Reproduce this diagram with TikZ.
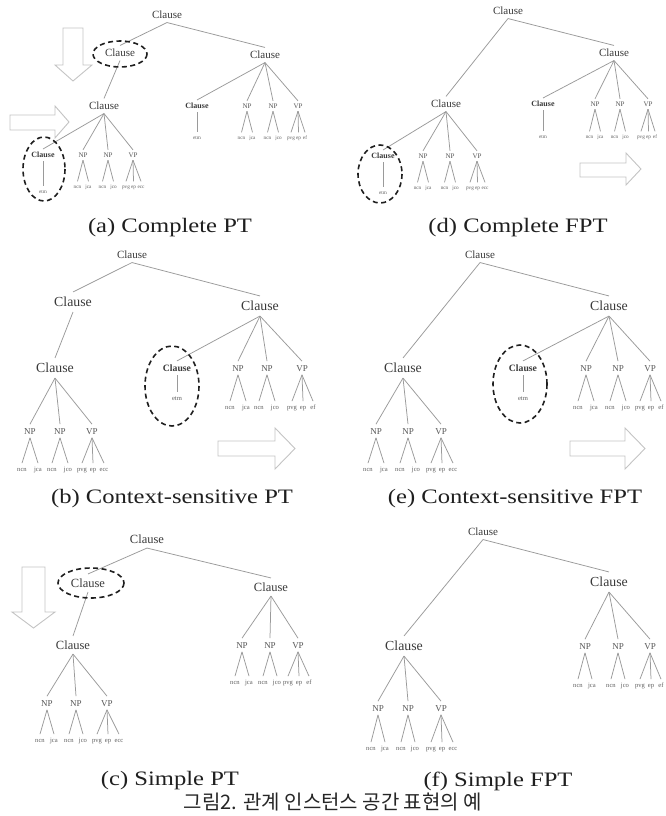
\documentclass[tikz,border=0pt]{standalone}
\usepackage{fontspec}
\newfontfamily\treefont{Liberation Serif}
\newfontfamily\leaffont{Liberation Serif}
\newfontfamily\capfont[FakeStretch=1.2]{Liberation Serif}
\newfontfamily\korfont{Noto Sans CJK KR}
\definecolor{cgray}{HTML}{3A3A3A}
\definecolor{ngray}{HTML}{555555}
\definecolor{lfgray}{HTML}{606060}
\definecolor{lgray}{HTML}{9A9A9A}
\definecolor{agray}{HTML}{C4C4C4}
\tikzset{
  edge/.style={draw=lgray, line width=0.75pt},
  bigA/.style={font=\treefont\fontsize{11}{12}\selectfont, text=cgray, inner sep=3.5pt, text height=7.7pt, text depth=0pt},
  bigC/.style={font=\treefont\fontsize{12.5}{13}\selectfont, text=cgray, inner sep=4.5pt, text height=8.7pt, text depth=0pt},
  bigB/.style={font=\treefont\fontsize{13.8}{14}\selectfont, text=cgray, inner sep=5pt, text height=9.7pt, text depth=0pt},
  scA/.style={font=\treefont\bfseries\fontsize{8}{9}\selectfont, text=cgray, inner sep=3pt, text height=5.6pt, text depth=0pt},
  scB/.style={font=\treefont\bfseries\fontsize{9.7}{10}\selectfont, text=cgray, inner sep=3.5pt, text height=6.8pt, text depth=0pt},
  catA/.style={font=\treefont\fontsize{7}{8}\selectfont, text=ngray, inner sep=2.5pt, text height=4.9pt, text depth=0pt},
  catB/.style={font=\treefont\fontsize{9}{10}\selectfont, text=ngray, inner sep=3.5pt, text height=6.3pt, text depth=0pt},
  leafA/.style={font=\leaffont\fontsize{5.2}{6}\selectfont, text=lfgray, inner sep=3pt, text height=3.8pt, text depth=1.1pt},
  leafB/.style={font=\leaffont\fontsize{6.6}{7}\selectfont, text=lfgray, inner sep=3.5pt, text height=5pt, text depth=1.4pt},
  dashring/.style={draw=black!88, line width=1.6pt, dash pattern=on 5pt off 3.5pt},
  fatarrow/.style={draw=agray, line width=0.9pt, fill=white, line join=miter},
  captxt/.style={font=\capfont\fontsize{20.5}{22}\selectfont, text=black!88, inner sep=0pt},
  kcap/.style={font=\korfont\fontsize{20}{22}\selectfont, text=black!85, inner sep=0pt}
}
% category node with its leaves: name, style, leaf style, x, y, label, drop, dx/leaf list
\newcommand\catn[8]{%
  \node[#2] (#1) at (#4,#5) {#6};
  \foreach \dx/\t [count=\i] in {#8}{%
    \node[#3] (#1-\i) at ({#4+\dx},{#5+#7}) {\t};
    \draw[edge] (#1.south) -- (#1-\i.north);
  }%
}
\begin{document}
\begin{tikzpicture}[x=1pt,y=-1pt]
\fill[white] (0,0) rectangle (666,816);
\useasboundingbox (0,0) rectangle (666,816);

% ---------------- (a) Complete PT ----------------
\node[bigA] (a0) at (167,15) {Clause};
\node[bigA] (a1) at (120,53) {Clause};
\node[bigA] (a2) at (104,106) {Clause};
\node[bigA] (a4) at (265,55) {Clause};
\catn{a3}{scA}{leafA}{43}{155}{Clause}{37}{0/etm}
\catn{a5}{catA}{leafA}{83}{155}{NP}{32}{-5.5/ncn,5.5/jca}
\catn{a6}{catA}{leafA}{108}{155}{NP}{32}{-5.5/ncn,5.5/jco}
\catn{a7}{catA}{leafA}{133}{155}{VP}{32}{-7/pvg,0.5/ep,8/ecc}
\catn{a8}{scA}{leafA}{197}{106}{Clause}{32}{0/etm}
\catn{a9}{catA}{leafA}{247}{106}{NP}{32}{-5.5/ncn,5.5/jca}
\catn{a10}{catA}{leafA}{273}{106}{NP}{32}{-5.5/ncn,5.5/jco}
\catn{a11}{catA}{leafA}{298}{106}{VP}{32}{-7/pvg,0.5/ep,7/ef}
\foreach \p/\c in {a0/a1,a0/a4,a1/a2,a2/a3,a2/a5,a2/a6,a2/a7,a4/a8,a4/a9,a4/a10,a4/a11}
  \draw[edge] (\p.south) -- (\c.north);
\draw[dashring] (120,54) ellipse [x radius=27, y radius=13];
\draw[dashring] (44,169) ellipse [x radius=21, y radius=32];
\draw[fatarrow] (63,28) -- (83,28) -- (83,65) -- (92,65) -- (73,81) -- (55,65) -- (63,65) -- cycle;
\draw[fatarrow] (10,115) -- (55,115) -- (55,106) -- (69,122) -- (55,138) -- (55,130) -- (10,130) -- cycle;
\node[captxt] (capa) at (170,228) {(a) Complete PT};

% ---------------- (d) Complete FPT ----------------
\node[bigA] (d0) at (508,11) {Clause};
\node[bigA] (d1) at (614,53) {Clause};
\node[bigA] (d2) at (446,104) {Clause};
\catn{d3}{scA}{leafA}{383}{156}{Clause}{37}{0/etm}
\catn{d5}{catA}{leafA}{423}{156}{NP}{32}{-5.5/ncn,5.5/jca}
\catn{d6}{catA}{leafA}{450}{156}{NP}{32}{-5.5/ncn,5.5/jco}
\catn{d7}{catA}{leafA}{477}{156}{VP}{32}{-7/pvg,0.5/ep,8/ecc}
\catn{d8}{scA}{leafA}{543}{104}{Clause}{33}{0/etm}
\catn{d9}{catA}{leafA}{595}{104}{NP}{33}{-5.5/ncn,5.5/jca}
\catn{d10}{catA}{leafA}{620}{104}{NP}{33}{-5.5/ncn,5.5/jco}
\catn{d11}{catA}{leafA}{648}{104}{VP}{33}{-7/pvg,0.5/ep,7/ef}
\foreach \p/\c in {d0/d1,d0/d2,d2/d3,d2/d5,d2/d6,d2/d7,d1/d8,d1/d9,d1/d10,d1/d11}
  \draw[edge] (\p.south) -- (\c.north);
\draw[dashring] (380,174) ellipse [x radius=22, y radius=29];
\draw[fatarrow] (580,163) -- (626,163) -- (626,153) -- (641,169) -- (626,185) -- (626,177) -- (580,177) -- cycle;
\node[captxt] (capd) at (518,228) {(d) Complete FPT};

% ---------------- (b) Context-sensitive PT ----------------
\node[bigA] (b0) at (132,255) {Clause};
\node[bigB] (b1) at (73,302) {Clause};
\node[bigB] (b2) at (55,368) {Clause};
\node[bigB] (b3) at (260,306) {Clause};
\catn{b5}{catB}{leafB}{30}{431}{NP}{39}{-8/ncn,8/jca}
\catn{b6}{catB}{leafB}{60}{431}{NP}{39}{-8/ncn,8/jco}
\catn{b7}{catB}{leafB}{92}{431}{VP}{39}{-10/pvg,1/ep,12/ecc}
\catn{b8}{scB}{leafB}{177}{368}{Clause}{31}{0/etm}
\catn{b9}{catB}{leafB}{238}{368}{NP}{40}{-8/ncn,8/jca}
\catn{b10}{catB}{leafB}{267}{368}{NP}{40}{-8/ncn,8/jco}
\catn{b11}{catB}{leafB}{302}{368}{VP}{40}{-10/pvg,1/ep,11/ef}
\foreach \p/\c in {b0/b1,b0/b3,b1/b2,b2/b5,b2/b6,b2/b7,b3/b8,b3/b9,b3/b10,b3/b11}
  \draw[edge] (\p.south) -- (\c.north);
\draw[dashring] (172,386) ellipse [x radius=27, y radius=40];
\draw[fatarrow] (218,441) -- (275,441) -- (275,428) -- (295,448.5) -- (275,469) -- (275,456) -- (218,456) -- cycle;
\node[captxt] (capb) at (172,499) {(b) Context-sensitive PT};

% ---------------- (e) Context-sensitive FPT ----------------
\node[bigA] (e0) at (480,255) {Clause};
\node[bigB] (e1) at (609,306) {Clause};
\node[bigB] (e2) at (403,368) {Clause};
\catn{e5}{catB}{leafB}{376}{431}{NP}{39}{-8/ncn,8/jca}
\catn{e6}{catB}{leafB}{408}{431}{NP}{39}{-8/ncn,8/jco}
\catn{e7}{catB}{leafB}{441}{431}{VP}{39}{-10/pvg,1/ep,12/ecc}
\catn{e8}{scB}{leafB}{523}{368}{Clause}{31}{0/etm}
\catn{e9}{catB}{leafB}{586}{368}{NP}{40}{-8/ncn,8/jca}
\catn{e10}{catB}{leafB}{618}{368}{NP}{40}{-8/ncn,8/jco}
\catn{e11}{catB}{leafB}{650}{368}{VP}{40}{-10/pvg,1/ep,11/ef}
\foreach \p/\c in {e0/e1,e0/e2,e2/e5,e2/e6,e2/e7,e1/e8,e1/e9,e1/e10,e1/e11}
  \draw[edge] (\p.south) -- (\c.north);
\draw[dashring] (520,384) ellipse [x radius=27, y radius=39];
\draw[fatarrow] (570,441) -- (625,441) -- (625,428) -- (645,448.5) -- (625,469) -- (625,456) -- (570,456) -- cycle;
\node[captxt] (cape) at (515,499) {(e) Context-sensitive FPT};

% ---------------- (c) Simple PT ----------------
\node[bigC] (c0) at (147,539) {Clause};
\node[bigC] (c1) at (88,583) {Clause};
\node[bigC] (c2) at (73,645) {Clause};
\node[bigC] (c3) at (271,587) {Clause};
\catn{c5}{catB}{leafB}{47}{703}{NP}{38}{-7/ncn,7/jca}
\catn{c6}{catB}{leafB}{76}{703}{NP}{38}{-7/ncn,7/jco}
\catn{c7}{catB}{leafB}{107}{703}{VP}{38}{-10/pvg,1/ep,12/ecc}
\catn{c9}{catB}{leafB}{242}{645}{NP}{38}{-7/ncn,7/jca}
\catn{c10}{catB}{leafB}{270}{645}{NP}{38}{-7/ncn,7/jco}
\catn{c11}{catB}{leafB}{298}{645}{VP}{38}{-10/pvg,1/ep,11/ef}
\foreach \p/\c in {c0/c1,c0/c3,c1/c2,c2/c5,c2/c6,c2/c7,c3/c9,c3/c10,c3/c11}
  \draw[edge] (\p.south) -- (\c.north);
\draw[dashring] (91,583) ellipse [x radius=33, y radius=15];
\draw[fatarrow] (22,567) -- (45,567) -- (45,612) -- (55,612) -- (33.5,628) -- (12,612) -- (22,612) -- cycle;
\node[captxt] (capc) at (170,781) {(c) Simple PT};

% ---------------- (f) Simple FPT ----------------
\node[bigA] (f0) at (483,532) {Clause};
\node[bigB] (f1) at (609,582) {Clause};
\node[bigB] (f2) at (404,646) {Clause};
\catn{f5}{catB}{leafB}{378}{708}{NP}{41}{-7/ncn,7/jca}
\catn{f6}{catB}{leafB}{408}{708}{NP}{41}{-7/ncn,7/jco}
\catn{f7}{catB}{leafB}{441}{708}{VP}{41}{-10/pvg,1/ep,12/ecc}
\catn{f9}{catB}{leafB}{585}{646}{NP}{40}{-7/ncn,7/jca}
\catn{f10}{catB}{leafB}{618}{646}{NP}{40}{-7/ncn,7/jco}
\catn{f11}{catB}{leafB}{650}{646}{VP}{40}{-10/pvg,1/ep,11/ef}
\foreach \p/\c in {f0/f1,f0/f2,f2/f5,f2/f6,f2/f7,f1/f9,f1/f10,f1/f11}
  \draw[edge] (\p.south) -- (\c.north);
\node[captxt] (capf) at (498,781) {(f) Simple FPT};

\node[kcap] (title) at (333,802) {그림2. 관계 인스턴스 공간 표현의 예};
\end{tikzpicture}
\end{document}
